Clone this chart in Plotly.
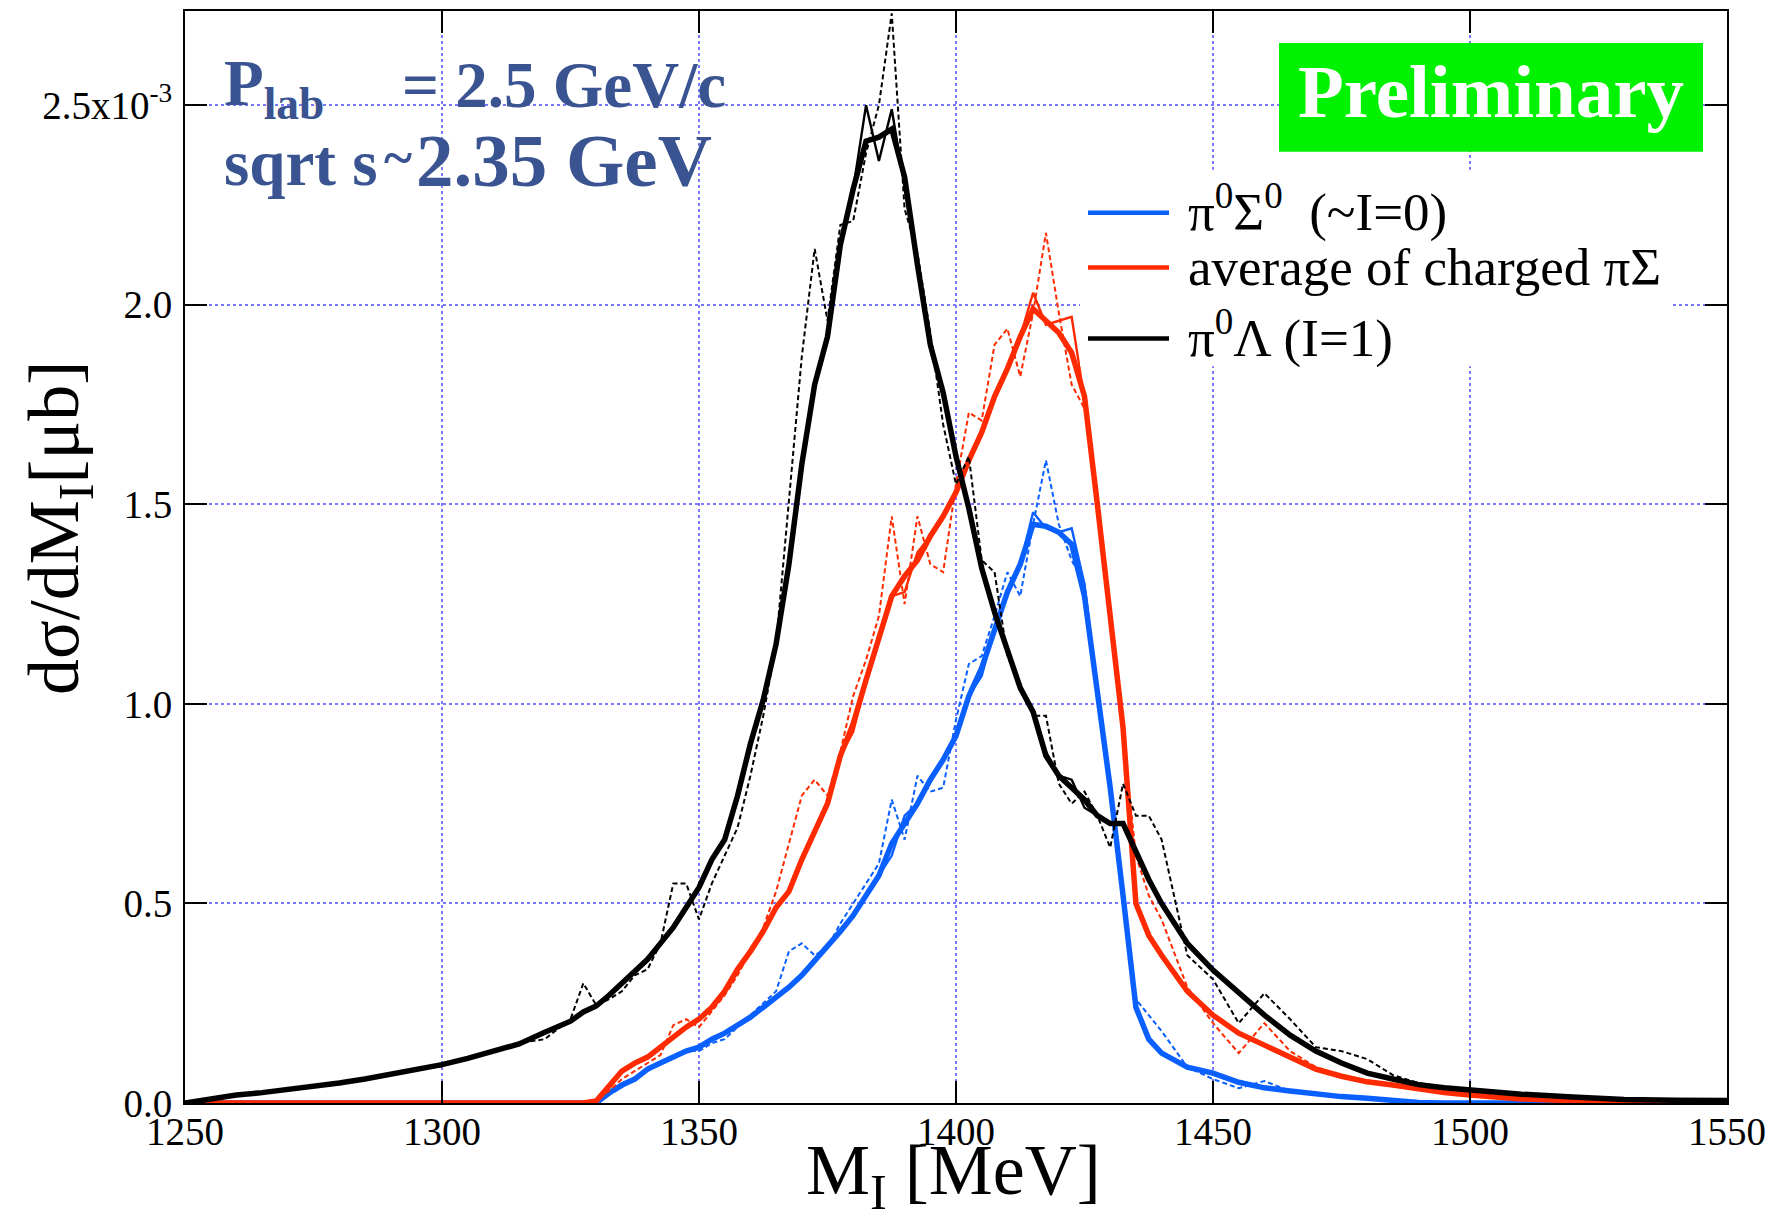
import plotly.graph_objects as go

# ---------------- data (values in units of 1e-3 ub/MeV) ----------------
mass = [1250, 1255, 1260, 1265, 1270, 1275, 1280, 1285, 1290, 1295, 1300, 1305, 1310, 1315, 1320, 1325,
        1327.5, 1330, 1332.5, 1335, 1337.5, 1340, 1342.5, 1345, 1347.5, 1350,
        1352.5, 1355, 1357.5, 1360, 1362.5, 1365, 1367.5, 1370, 1372.5, 1375,
        1377.5, 1380, 1382.5, 1385, 1387.5, 1390, 1392.5, 1395, 1397.5, 1400,
        1402.5, 1405, 1407.5, 1410, 1412.5, 1415, 1417.5, 1420, 1422.5, 1425,
        1427.5, 1430, 1432.5, 1435, 1437.5, 1440,
        1445, 1450, 1455, 1460, 1465, 1470, 1475, 1480, 1485, 1490, 1495, 1500,
        1510, 1520, 1530, 1540, 1550]

black_thick = [0, 0.01, 0.02, 0.026, 0.033, 0.041, 0.05, 0.06, 0.072, 0.083, 0.096, 0.112, 0.13, 0.148, 0.177, 0.205,
               0.228, 0.243, 0.27, 0.30, 0.33, 0.36, 0.40, 0.44, 0.49, 0.54,
               0.61, 0.66, 0.77, 0.90, 1.01, 1.15, 1.35, 1.60, 1.80, 1.92,
               2.15, 2.29, 2.41, 2.42, 2.44, 2.32, 2.10, 1.90, 1.78, 1.62,
               1.49, 1.34, 1.23, 1.14, 1.04, 0.98, 0.87, 0.82, 0.79, 0.76,
               0.72, 0.70, 0.70, 0.63, 0.56, 0.50,
               0.40, 0.333, 0.275, 0.22, 0.17, 0.13, 0.10, 0.075, 0.06, 0.046, 0.038, 0.032,
               0.022, 0.015, 0.009, 0.007, 0.006]
black_thin = [0, 0.01, 0.02, 0.026, 0.033, 0.041, 0.05, 0.06, 0.072, 0.083, 0.096, 0.112, 0.13, 0.148, 0.177, 0.205,
              0.228, 0.243, 0.27, 0.30, 0.33, 0.36, 0.40, 0.44, 0.49, 0.54,
              0.61, 0.66, 0.76, 0.90, 1.01, 1.15, 1.35, 1.60, 1.80, 1.93,
              2.15, 2.29, 2.50, 2.36, 2.49, 2.30, 2.10, 1.90, 1.78, 1.62,
              1.49, 1.34, 1.23, 1.14, 1.04, 0.98, 0.88, 0.82, 0.81, 0.74,
              0.72, 0.70, 0.70, 0.63, 0.56, 0.50,
              0.40, 0.333, 0.275, 0.22, 0.17, 0.13, 0.10, 0.075, 0.06, 0.046, 0.038, 0.032,
              0.022, 0.015, 0.009, 0.007, 0.006]
black_dot = [0, 0.01, 0.02, 0.027, 0.032, 0.043, 0.05, 0.06, 0.07, 0.085, 0.092, 0.115, 0.128, 0.15, 0.16, 0.21,
             0.30, 0.245, 0.26, 0.28, 0.32, 0.335, 0.40, 0.55, 0.55, 0.46,
             0.55, 0.62, 0.69, 0.82, 0.97, 1.15, 1.50, 1.87, 2.14, 1.96,
             2.20, 2.21, 2.38, 2.50, 2.73, 2.24, 2.13, 1.93, 1.70, 1.55,
             1.62, 1.36, 1.33, 1.12, 1.05, 0.97, 0.97, 0.80, 0.75, 0.78,
             0.72, 0.64, 0.80, 0.72, 0.72, 0.66,
             0.37, 0.31, 0.20, 0.275, 0.21, 0.14, 0.13, 0.11, 0.07, 0.05, 0.04, 0.032,
             0.022, 0.015, 0.009, 0.007, 0.006]

red_thick = [0, 0, 0, 0, 0, 0, 0, 0, 0, 0, 0, 0, 0, 0, 0, 0,
             0, 0.005, 0.04, 0.08, 0.10, 0.115, 0.14, 0.165, 0.19, 0.21,
             0.24, 0.28, 0.335, 0.38, 0.43, 0.49, 0.53, 0.61, 0.68, 0.75,
             0.87, 0.95, 1.06, 1.17, 1.27, 1.32, 1.36, 1.42, 1.47, 1.53,
             1.61, 1.68, 1.77, 1.84, 1.92, 1.99, 1.96, 1.93, 1.88, 1.77,
             1.50, 1.22, 0.94, 0.50, 0.42, 0.37,
             0.28, 0.22, 0.175, 0.145, 0.115, 0.085, 0.067, 0.053, 0.045, 0.035, 0.026, 0.02,
             0.01, 0.006, 0.003, 0.001, 0]
red_thin = [0, 0, 0, 0, 0, 0, 0, 0, 0, 0, 0, 0, 0, 0, 0, 0,
            0, 0.005, 0.04, 0.08, 0.10, 0.115, 0.14, 0.165, 0.19, 0.21,
            0.24, 0.28, 0.335, 0.38, 0.43, 0.49, 0.53, 0.61, 0.68, 0.75,
            0.87, 0.93, 1.06, 1.17, 1.27, 1.28, 1.38, 1.42, 1.47, 1.53,
            1.61, 1.68, 1.77, 1.84, 1.92, 2.03, 1.95, 1.96, 1.97, 1.76,
            1.50, 1.22, 0.94, 0.50, 0.42, 0.37,
            0.28, 0.22, 0.175, 0.145, 0.115, 0.085, 0.067, 0.053, 0.045, 0.035, 0.026, 0.02,
            0.01, 0.006, 0.003, 0.001, 0]
red_dot = [0, 0, 0, 0, 0, 0, 0, 0, 0, 0, 0, 0, 0, 0, 0, 0,
           0, 0.005, 0.03, 0.06, 0.08, 0.10, 0.12, 0.195, 0.21, 0.19,
           0.23, 0.27, 0.32, 0.38, 0.44, 0.53, 0.65, 0.77, 0.81, 0.77,
           0.88, 1.02, 1.11, 1.22, 1.47, 1.25, 1.47, 1.35, 1.33, 1.55,
           1.73, 1.71, 1.90, 1.94, 1.82, 1.98, 2.18, 1.98, 1.80, 1.74,
           1.50, 1.22, 0.92, 0.62, 0.52, 0.46,
           0.29, 0.20, 0.125, 0.20, 0.13, 0.09, 0.07, 0.055, 0.042, 0.033, 0.026, 0.02,
           0.01, 0.006, 0.003, 0.001, 0]

blue_thick = [0, 0, 0, 0, 0, 0, 0, 0, 0, 0, 0, 0, 0, 0, 0, 0,
              0, 0, 0.025, 0.045, 0.06, 0.085, 0.10, 0.115, 0.13, 0.14,
              0.16, 0.175, 0.195, 0.215, 0.24, 0.265, 0.29, 0.32, 0.355, 0.39,
              0.43, 0.47, 0.52, 0.57, 0.65, 0.70, 0.75, 0.81, 0.86, 0.92,
              1.02, 1.09, 1.19, 1.28, 1.35, 1.45, 1.445, 1.43, 1.40, 1.27,
              1.03, 0.79, 0.52, 0.24, 0.16, 0.125,
              0.09, 0.075, 0.052, 0.038, 0.03, 0.022, 0.016, 0.012, 0.005, 0.001, 0, 0,
              0, 0, 0, 0, 0]
blue_thin = [0, 0, 0, 0, 0, 0, 0, 0, 0, 0, 0, 0, 0, 0, 0, 0,
             0, 0, 0.025, 0.045, 0.06, 0.085, 0.10, 0.115, 0.13, 0.14,
             0.16, 0.175, 0.195, 0.215, 0.24, 0.265, 0.29, 0.32, 0.355, 0.39,
             0.43, 0.47, 0.52, 0.57, 0.62, 0.72, 0.75, 0.81, 0.86, 0.92,
             1.02, 1.07, 1.19, 1.28, 1.35, 1.48, 1.44, 1.43, 1.44, 1.30,
             1.03, 0.79, 0.52, 0.24, 0.16, 0.125,
             0.09, 0.075, 0.052, 0.038, 0.03, 0.022, 0.016, 0.012, 0.005, 0.001, 0, 0,
             0, 0, 0, 0, 0]
blue_dot = [0, 0, 0, 0, 0, 0, 0, 0, 0, 0, 0, 0, 0, 0, 0, 0,
            0, 0, 0.02, 0.04, 0.06, 0.08, 0.10, 0.12, 0.13, 0.13,
            0.15, 0.16, 0.19, 0.22, 0.25, 0.28, 0.38, 0.40, 0.37, 0.39,
            0.45, 0.50, 0.55, 0.60, 0.76, 0.66, 0.82, 0.78, 0.79, 0.96,
            1.10, 1.12, 1.22, 1.33, 1.27, 1.45, 1.61, 1.45, 1.36, 1.30,
            1.03, 0.79, 0.52, 0.26, 0.22, 0.18,
            0.09, 0.06, 0.037, 0.055, 0.03, 0.022, 0.016, 0.012, 0.005, 0.001, 0, 0,
            0, 0, 0, 0, 0]

x_ticks = [1250, 1300, 1350, 1400, 1450, 1500, 1550]
y_ticks = [0.0, 0.5, 1.0, 1.5, 2.0, 2.5]
y_ticktext = ["0.0", "0.5", "1.0", "1.5", "2.0", "2.5x10<sup>-3</sup>"]

legend_labels = ["π<sup>0</sup>Σ<sup>0</sup>  (~I=0)",
                 "average of charged πΣ",
                 "π<sup>0</sup>Λ (I=1)"]

# ---------------- styling ----------------
OFF = 8                      # page body margin of the html page
W, H = 1780 - 2 * OFF, 1217 - 2 * OFF
# plot frame in page pixels
L, R, T, B = 185, 1727, 9, 1103
BLUE = "#0a5fff"
RED = "#ff2a00"
BLACK = "#000000"
TXT = "#3a5391"
SERIF = "Liberation Serif"


def px(x):
    return (x - L) / (R - L)


def py(y):
    return (B - y) / (B - T)


fig = go.Figure()

groups = [
    (BLUE, blue_dot, blue_thin, blue_thick),
    (RED, red_dot, red_thin, red_thick),
    (BLACK, black_dot, black_thin, black_thick),
]
for color, dot, thin, thick in groups:
    fig.add_trace(go.Scatter(x=mass, y=dot, mode="lines", showlegend=False,
                             line=dict(color=color, width=2, dash="5px,3px")))
    fig.add_trace(go.Scatter(x=mass, y=thin, mode="lines", showlegend=False,
                             line=dict(color=color, width=2.4)))
    fig.add_trace(go.Scatter(x=mass, y=thick, mode="lines", showlegend=False,
                             line=dict(color=color, width=5.5)))

axis_common = dict(
    showline=True, linecolor="black", linewidth=2, mirror="ticks",
    ticks="inside", ticklen=22, tickwidth=2, tickcolor="black",
    showgrid=True, gridcolor="#7878ff", gridwidth=1.5, griddash="dot",
    zeroline=False,
    tickfont=dict(family=SERIF, size=39, color="black"),
)

fig.update_xaxes(range=[1250, 1550], tickvals=x_ticks, ticktext=[str(v) for v in x_ticks],
                 ticklabelstandoff=-7, **axis_common)
fig.update_yaxes(range=[0, 2.736], tickvals=y_ticks, ticktext=y_ticktext,
                 ticklabelstandoff=3, **axis_common)

shapes = []
annotations = []

# white legend backdrop and green "Preliminary" box
shapes.append(dict(type="rect", xref="paper", yref="paper",
                   x0=px(1080), x1=px(1673), y0=py(365), y1=py(168),
                   fillcolor="white", line=dict(width=0), layer="above"))
shapes.append(dict(type="rect", xref="paper", yref="paper",
                   x0=px(1279), x1=px(1703), y0=py(150), y1=py(41),
                   fillcolor="#00f200", line=dict(width=0), layer="above"))
annotations.append(dict(xref="paper", yref="paper", x=px(1491), y=py(90),
                        text="<b>Preliminary</b>", showarrow=False,
                        xanchor="center", yanchor="middle",
                        font=dict(family=SERIF, size=75, color="white")))

# legend (manual)
leg_y = [211, 266, 337]
txt_y = [207, 265, 333]
for yy, ty, color, lab in zip(leg_y, txt_y, [BLUE, RED, BLACK], legend_labels):
    shapes.append(dict(type="line", xref="paper", yref="paper",
                       x0=px(1088), x1=px(1169), y0=py(yy), y1=py(yy),
                       line=dict(color=color, width=4.5), layer="above"))
    annotations.append(dict(xref="paper", yref="paper", x=px(1186), y=py(ty),
                            text=lab, showarrow=False, xanchor="left", yanchor="middle",
                            font=dict(family=SERIF, size=53, color="black")))

# beam info text
annotations.append(dict(xref="paper", yref="paper", x=px(222), y=py(86),
                        text="<b>P<sub>lab</sub></b>", showarrow=False,
                        xanchor="left", yanchor="middle",
                        font=dict(family=SERIF, size=65, color=TXT)))
annotations.append(dict(xref="paper", yref="paper", x=px(400), y=py(83),
                        text="<b>= 2.5 GeV/c</b>", showarrow=False,
                        xanchor="left", yanchor="middle",
                        font=dict(family=SERIF, size=65, color=TXT)))
annotations.append(dict(xref="paper", yref="paper", x=px(222), y=py(161),
                        text="<b>sqrt s</b>", showarrow=False,
                        xanchor="left", yanchor="middle",
                        font=dict(family=SERIF, size=65, color=TXT)))
annotations.append(dict(xref="paper", yref="paper", x=px(382), y=py(156),
                        text="<b>~</b>", showarrow=False,
                        xanchor="left", yanchor="middle",
                        font=dict(family=SERIF, size=54, color=TXT)))
annotations.append(dict(xref="paper", yref="paper", x=px(414), y=py(159),
                        text="<b>2.35 GeV</b>", showarrow=False,
                        xanchor="left", yanchor="middle",
                        font=dict(family=SERIF, size=75, color=TXT)))

# axis titles
annotations.append(dict(xref="paper", yref="paper", x=px(953), y=py(1175),
                        text="M<sub>I</sub> [MeV]", showarrow=False,
                        xanchor="center", yanchor="middle",
                        font=dict(family=SERIF, size=72, color="black")))
annotations.append(dict(xref="paper", yref="paper", x=px(59), y=py(527),
                        text="dσ/dM<sub>I</sub>[μb]", showarrow=False, textangle=-90,
                        xanchor="center", yanchor="middle",
                        font=dict(family=SERIF, size=72, color="black")))

fig.update_layout(
    width=W, height=H,
    margin=dict(l=L - OFF, r=(W + OFF) - R, t=T - OFF, b=(H + OFF) - B, pad=0),
    paper_bgcolor="white", plot_bgcolor="white",
    shapes=shapes, annotations=annotations,
    showlegend=False,
)

fig.write_html("out.html")
